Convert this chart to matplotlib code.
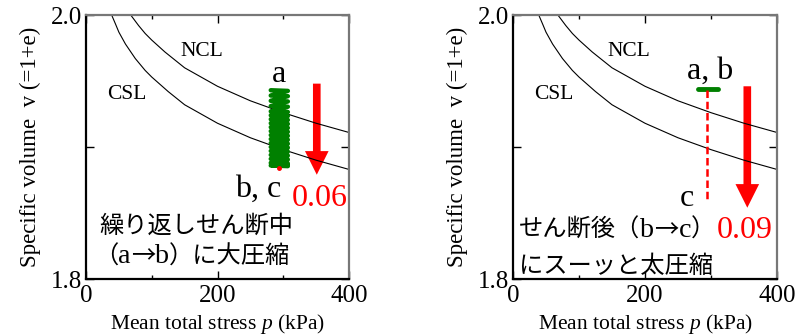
import matplotlib
matplotlib.use("Agg")
import matplotlib.pyplot as plt
from matplotlib.patches import FancyArrowPatch

plt.rcParams["mathtext.fontset"] = "custom"
plt.rcParams["mathtext.it"] = "Liberation Serif:italic"
plt.rcParams["mathtext.rm"] = "Liberation Serif"

# Data
ncl_p = [68, 80, 90, 100, 120, 150, 200, 250, 300, 350, 400]
ncl_v = [2.000, 1.992, 1.986, 1.981, 1.972, 1.960, 1.946, 1.935, 1.926, 1.918, 1.911]
csl_p = [39, 45, 50, 60, 75, 90, 100, 125, 150, 200, 250, 300, 350, 400]
csl_v = [2.000, 1.993, 1.987, 1.978, 1.967, 1.958, 1.953, 1.942, 1.932, 1.918, 1.907, 1.898, 1.890, 1.883]

# cyclic shear path (a -> b), left panel
cyc_p = [281, 307, 281, 307, 281, 307, 281, 307, 281, 307, 281, 307, 281, 307, 281, 307,
         281, 307, 281, 307, 281, 307, 281, 307, 281, 307, 281, 307, 281, 307, 281, 307,
         281, 307, 281, 307, 281, 307]
cyc_v = [1.943, 1.9425, 1.939, 1.9385, 1.935, 1.9345, 1.931, 1.9305, 1.927, 1.9265,
         1.924, 1.9235, 1.921, 1.9205, 1.918, 1.9175, 1.915, 1.9145, 1.912, 1.9115,
         1.909, 1.9085, 1.906, 1.9055, 1.903, 1.9025, 1.900, 1.8995, 1.897, 1.8965,
         1.894, 1.8935, 1.891, 1.8905, 1.888, 1.8875, 1.886, 1.8855]
pt_bc = (294, 1.884)

# right panel: a,b bar and post-shear compression b -> c
ab_p = [280, 310]
ab_v = [1.944, 1.944]
bc_p = [294, 294]
bc_v = [1.943, 1.858]

arrow_left = (351, 1.948, 1.879)
arrow_right = (355, 1.946, 1.854)

xticks = [0, 200, 400]
yticks = [1.8, 1.9, 2.0]
yticklabels = ["1.8", "", "2.0"]

SERIF = ["Liberation Serif", "Noto Sans CJK JP"]
JP = ["Noto Sans CJK JP", "Liberation Serif"]

fig = plt.figure(figsize=(7.99, 3.36), dpi=100)
W, H = 799, 336
axL = fig.add_axes([86 / W, (H - 279) / H, 263 / W, 264 / H])
axR = fig.add_axes([513 / W, (H - 279) / H, 264 / W, 264 / H])


def style(ax):
    ax.set_xlim(0, 400)
    ax.set_ylim(1.8, 2.0)
    ax.plot(ncl_p, ncl_v, color="black", lw=0.8)
    ax.plot(csl_p, csl_v, color="black", lw=0.8)
    ax.set_xticks(xticks)
    ax.set_xticks([100, 300], minor=True)
    ax.set_yticks(yticks)
    ax.set_yticklabels(yticklabels)
    ax.tick_params(which="both", direction="in", top=True, right=True,
                   labelsize=18, width=1, color="black")
    ax.tick_params(axis="x", pad=4)
    ax.tick_params(axis="y", pad=3)
    ax.tick_params(which="major", length=6)
    ax.tick_params(which="minor", length=3)
    for lab in ax.get_xticklabels() + ax.get_yticklabels():
        lab.set_family(SERIF)
    for s in ["left", "bottom"]:
        ax.spines[s].set_color("black")
        ax.spines[s].set_linewidth(1.6)
    for s in ["top", "right"]:
        ax.spines[s].set_color("#777777")
        ax.spines[s].set_linewidth(1.6)
    ax.set_xlabel("Mean total stress $p$ (kPa)", fontsize=15.5, family=SERIF)
    ax.xaxis.set_label_coords(0.5, -0.125)
    ax.set_ylabel("Specific volume  v (=1+e)", fontsize=16.5, family=SERIF)
    ax.yaxis.set_label_coords(-0.17, 0.5)
    ax.text(176, 1.972, "NCL", fontsize=15.5, family=SERIF, ha="center", va="center")
    ax.text(62, 1.940, "CSL", fontsize=15.5, family=SERIF, ha="center", va="center")


def red_arrow(ax, x, y0, y1):
    a = FancyArrowPatch((x, y0), (x, y1),
                        arrowstyle="simple,head_length=17,head_width=17,tail_width=5.5",
                        color="red", mutation_scale=1, shrinkA=0, shrinkB=0, lw=0)
    ax.add_patch(a)


def chain(ax, x, y, parts, size):
    s, fam, col = parts[0]
    t = ax.text(x, y, s, fontsize=size, family=fam, color=col, ha="left", va="center")
    for s, fam, col in parts[1:]:
        fs = size if fam is JP else size * 1.15
        t = ax.annotate(s, xy=(1, 0.5), xycoords=t, fontsize=fs, family=fam, color=col,
                        ha="left", va="center")
    return t


style(axL)
style(axR)

# Left panel
axL.plot(cyc_p, cyc_v, color="green", lw=3.2, solid_joinstyle="round", solid_capstyle="round")
axL.plot([pt_bc[0]], [pt_bc[1]], "o", color="red", ms=2.5)
axL.text(294, 1.955, "a", fontsize=23, family=SERIF, ha="center", va="center")
axL.text(262, 1.868, "b, c", fontsize=23, family=SERIF, ha="center", va="center")
red_arrow(axL, *arrow_left)
axL.text(356, 1.861, "0.06", fontsize=23, family=SERIF, color="red",
         ha="center", va="center")
axL.text(20, 1.840, "繰り返しせん断中", fontsize=17.5, family=JP, ha="left", va="center")
chain(axL, 12, 1.817, [("（", JP, "black"), ("a", SERIF, "black"), ("→", JP, "black"),
                       ("b", SERIF, "black"), ("）に大圧縮", JP, "black")], 17.5)

# Right panel
axR.plot(ab_p, ab_v, color="green", lw=3.5, solid_capstyle="round")
axR.plot(bc_p, bc_v, color="red", lw=1.8, ls=(0, (3, 1.5)))
axR.text(298, 1.957, "a, b", fontsize=23, family=SERIF, ha="center", va="center")
axR.text(264, 1.861, "c", fontsize=23, family=SERIF, ha="center", va="center")
red_arrow(axR, *arrow_right)
chain(axR, 9, 1.837, [("せん断後（", JP, "black"), ("b", SERIF, "black"), ("→", JP, "black"),
                      ("c", SERIF, "black"), ("）", JP, "black")], 17.5)
axR.text(309, 1.837, "0.09", fontsize=23, family=SERIF, color="red", ha="left", va="center")
axR.text(9, 1.810, "にスーッと太圧縮", fontsize=17.5, family=JP, ha="left", va="center")

fig.savefig("out.png", dpi=100)
